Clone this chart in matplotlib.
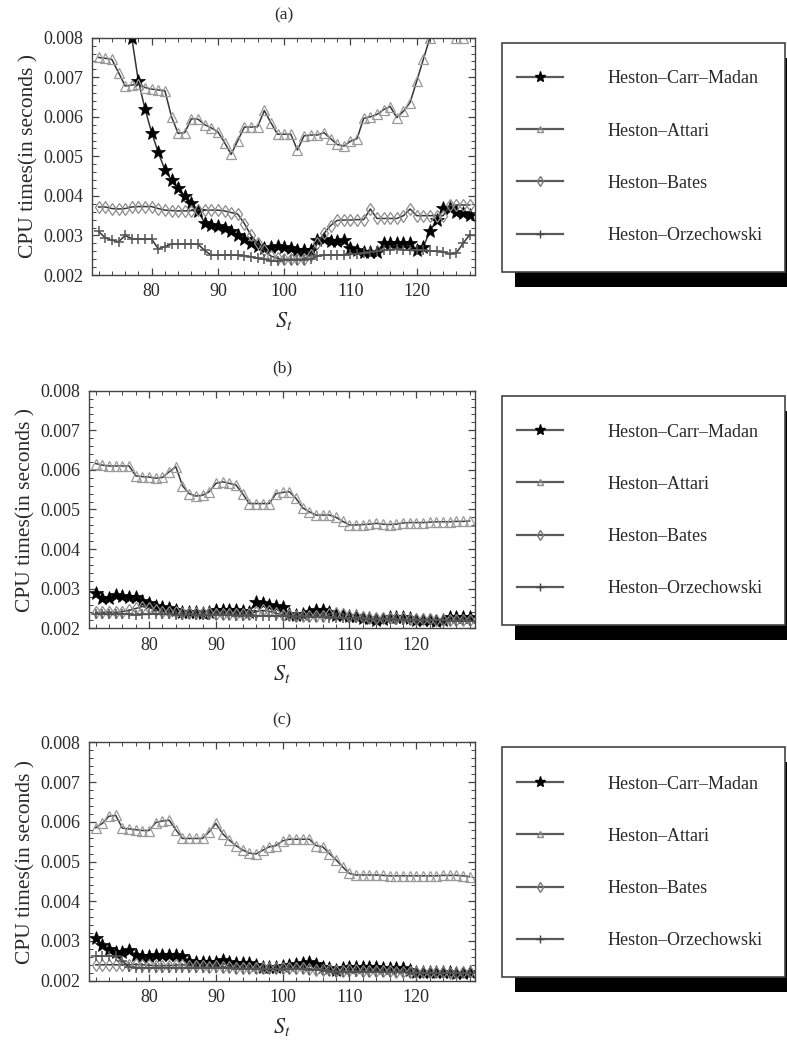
import matplotlib
matplotlib.use("Agg")
import matplotlib.pyplot as plt
from matplotlib.lines import Line2D
from matplotlib.patches import Rectangle
from matplotlib.ticker import AutoMinorLocator, FormatStrFormatter

plt.rcParams["font.family"] = ["Liberation Serif", "DejaVu Serif"]
plt.rcParams["mathtext.fontset"] = "stix"

# stock price grid (x axis)
st = list(range(72, 129))

# panel (a)
carr_a = [0.0110, 0.0105, 0.0100, 0.0094, 0.0088, 0.00800, 0.00690, 0.00620, 0.00560, 0.00510,
          0.00466, 0.00440, 0.00420, 0.00400, 0.00383, 0.00362, 0.00332, 0.00326, 0.00325, 0.00320,
          0.00312, 0.00302, 0.00292, 0.00280, 0.00273, 0.00268, 0.00272, 0.00273, 0.00271, 0.00268,
          0.00264, 0.00262, 0.00263, 0.00288, 0.00290, 0.00285, 0.00286, 0.00289, 0.00268, 0.00262,
          0.00259, 0.00259, 0.00259, 0.00280, 0.00282, 0.00282, 0.00282, 0.00281, 0.00264, 0.00272,
          0.00310, 0.00340, 0.00370, 0.00370, 0.00360, 0.00356, 0.00352]
atta_a = [0.00750, 0.00748, 0.00745, 0.00712, 0.00678, 0.00680, 0.00684, 0.00674, 0.00670, 0.00668,
          0.00666, 0.00600, 0.00558, 0.00560, 0.00595, 0.00594, 0.00580, 0.00572, 0.00562, 0.00535,
          0.00505, 0.00540, 0.00574, 0.00574, 0.00575, 0.00616, 0.00585, 0.00556, 0.00556, 0.00556,
          0.00516, 0.00552, 0.00554, 0.00554, 0.00560, 0.00545, 0.00530, 0.00526, 0.00538, 0.00545,
          0.00596, 0.00600, 0.00606, 0.00618, 0.00626, 0.00598, 0.00614, 0.00636, 0.00690, 0.00745,
          0.00800, 0.00860, 0.00880, 0.00850, 0.00800, 0.00800, 0.00830]
bates_a = [0.00372, 0.00372, 0.00368, 0.00367, 0.00368, 0.00372, 0.00373, 0.00373, 0.00373, 0.00368,
           0.00364, 0.00363, 0.00362, 0.00362, 0.00363, 0.00364, 0.00364, 0.00364, 0.00364, 0.00362,
           0.00358, 0.00354, 0.00330, 0.00300, 0.00280, 0.00262, 0.00248, 0.00242, 0.00240, 0.00240,
           0.00240, 0.00241, 0.00250, 0.00280, 0.00305, 0.00325, 0.00338, 0.00339, 0.00339, 0.00340,
           0.00340, 0.00367, 0.00343, 0.00343, 0.00343, 0.00343, 0.00350, 0.00367, 0.00350, 0.00350,
           0.00350, 0.00350, 0.00350, 0.00376, 0.00377, 0.00377, 0.00377]
orze_a = [0.00310, 0.00294, 0.00288, 0.00284, 0.00300, 0.00292, 0.00291, 0.00290, 0.00291, 0.00266,
          0.00272, 0.00278, 0.00278, 0.00278, 0.00278, 0.00278, 0.00262, 0.00250, 0.00250, 0.00250,
          0.00250, 0.00250, 0.00249, 0.00246, 0.00242, 0.00240, 0.00236, 0.00236, 0.00237, 0.00238,
          0.00238, 0.00238, 0.00240, 0.00248, 0.00250, 0.00250, 0.00250, 0.00250, 0.00252, 0.00254,
          0.00256, 0.00258, 0.00260, 0.00262, 0.00264, 0.00266, 0.00264, 0.00262, 0.00262, 0.00262,
          0.00261, 0.00260, 0.00258, 0.00254, 0.00256, 0.00280, 0.00302]

# panel (b)
carr_b = [0.00290, 0.00276, 0.00276, 0.00284, 0.00282, 0.00280, 0.00280, 0.00270, 0.00263, 0.00256,
          0.00254, 0.00252, 0.00246, 0.00242, 0.00242, 0.00240, 0.00238, 0.00240, 0.00246, 0.00246,
          0.00246, 0.00246, 0.00244, 0.00242, 0.00267, 0.00263, 0.00259, 0.00257, 0.00255, 0.00236,
          0.00234, 0.00235, 0.00240, 0.00246, 0.00246, 0.00240, 0.00234, 0.00234, 0.00232, 0.00230,
          0.00227, 0.00225, 0.00221, 0.00224, 0.00229, 0.00229, 0.00229, 0.00225, 0.00221, 0.00221,
          0.00221, 0.00219, 0.00222, 0.00229, 0.00229, 0.00229, 0.00229]
atta_b = [0.00616, 0.00612, 0.00610, 0.00610, 0.00610, 0.00610, 0.00585, 0.00583, 0.00582, 0.00579,
          0.00581, 0.00595, 0.00608, 0.00560, 0.00540, 0.00534, 0.00536, 0.00545, 0.00566, 0.00570,
          0.00566, 0.00562, 0.00540, 0.00515, 0.00515, 0.00515, 0.00515, 0.00540, 0.00543, 0.00545,
          0.00528, 0.00504, 0.00494, 0.00486, 0.00486, 0.00486, 0.00480, 0.00470, 0.00461, 0.00461,
          0.00462, 0.00463, 0.00465, 0.00463, 0.00462, 0.00463, 0.00466, 0.00467, 0.00467, 0.00467,
          0.00468, 0.00469, 0.00469, 0.00469, 0.00470, 0.00470, 0.00471]
bates_b = [0.00240, 0.00240, 0.00241, 0.00240, 0.00242, 0.00245, 0.00250, 0.00255, 0.00252, 0.00246,
           0.00242, 0.00240, 0.00240, 0.00239, 0.00238, 0.00238, 0.00238, 0.00238, 0.00237, 0.00237,
           0.00237, 0.00236, 0.00236, 0.00236, 0.00242, 0.00245, 0.00243, 0.00238, 0.00234, 0.00233,
           0.00232, 0.00232, 0.00232, 0.00232, 0.00232, 0.00236, 0.00238, 0.00236, 0.00232, 0.00230,
           0.00228, 0.00227, 0.00226, 0.00226, 0.00226, 0.00225, 0.00225, 0.00224, 0.00224, 0.00223,
           0.00223, 0.00222, 0.00222, 0.00221, 0.00221, 0.00220, 0.00220]
orze_b = [0.00236, 0.00236, 0.00235, 0.00235, 0.00236, 0.00235, 0.00234, 0.00235, 0.00235, 0.00236,
          0.00235, 0.00235, 0.00234, 0.00234, 0.00235, 0.00234, 0.00233, 0.00233, 0.00234, 0.00233,
          0.00233, 0.00232, 0.00232, 0.00233, 0.00232, 0.00231, 0.00231, 0.00232, 0.00230, 0.00230,
          0.00229, 0.00230, 0.00228, 0.00228, 0.00229, 0.00227, 0.00227, 0.00226, 0.00227, 0.00225,
          0.00225, 0.00224, 0.00224, 0.00223, 0.00224, 0.00222, 0.00222, 0.00221, 0.00222, 0.00221,
          0.00220, 0.00220, 0.00221, 0.00219, 0.00219, 0.00220, 0.00219]

# panel (c)
carr_c = [0.00307, 0.00290, 0.00280, 0.00273, 0.00273, 0.00277, 0.00265, 0.00262, 0.00261, 0.00265,
          0.00265, 0.00265, 0.00265, 0.00261, 0.00250, 0.00248, 0.00248, 0.00248, 0.00248, 0.00252,
          0.00246, 0.00244, 0.00244, 0.00244, 0.00240, 0.00235, 0.00235, 0.00235, 0.00238, 0.00240,
          0.00242, 0.00244, 0.00248, 0.00242, 0.00235, 0.00231, 0.00227, 0.00232, 0.00235, 0.00235,
          0.00235, 0.00235, 0.00235, 0.00233, 0.00231, 0.00231, 0.00231, 0.00226, 0.00223, 0.00223,
          0.00223, 0.00223, 0.00223, 0.00221, 0.00219, 0.00220, 0.00223]
atta_c = [0.00585, 0.00596, 0.00614, 0.00616, 0.00584, 0.00582, 0.00580, 0.00578, 0.00578, 0.00598,
          0.00602, 0.00604, 0.00580, 0.00558, 0.00558, 0.00558, 0.00558, 0.00575, 0.00596, 0.00570,
          0.00554, 0.00540, 0.00529, 0.00521, 0.00519, 0.00528, 0.00537, 0.00540, 0.00552, 0.00556,
          0.00556, 0.00556, 0.00556, 0.00540, 0.00537, 0.00520, 0.00504, 0.00486, 0.00470, 0.00466,
          0.00466, 0.00466, 0.00466, 0.00465, 0.00464, 0.00464, 0.00464, 0.00464, 0.00464, 0.00464,
          0.00464, 0.00464, 0.00465, 0.00465, 0.00465, 0.00464, 0.00462]
bates_c = [0.00240, 0.00240, 0.00240, 0.00240, 0.00240, 0.00240, 0.00241, 0.00240, 0.00239, 0.00238,
           0.00238, 0.00238, 0.00239, 0.00240, 0.00238, 0.00236, 0.00236, 0.00235, 0.00236, 0.00235,
           0.00234, 0.00233, 0.00232, 0.00232, 0.00233, 0.00232, 0.00231, 0.00231, 0.00232, 0.00232,
           0.00233, 0.00232, 0.00230, 0.00228, 0.00227, 0.00226, 0.00225, 0.00225, 0.00226, 0.00226,
           0.00225, 0.00225, 0.00224, 0.00224, 0.00224, 0.00223, 0.00223, 0.00222, 0.00222, 0.00222,
           0.00221, 0.00221, 0.00221, 0.00220, 0.00220, 0.00221, 0.00221]
orze_c = [0.00262, 0.00262, 0.00262, 0.00262, 0.00250, 0.00234, 0.00233, 0.00233, 0.00233, 0.00233,
          0.00233, 0.00233, 0.00233, 0.00233, 0.00232, 0.00232, 0.00232, 0.00232, 0.00232, 0.00232,
          0.00231, 0.00230, 0.00230, 0.00230, 0.00230, 0.00230, 0.00229, 0.00229, 0.00229, 0.00229,
          0.00229, 0.00229, 0.00228, 0.00227, 0.00226, 0.00224, 0.00222, 0.00221, 0.00221, 0.00222,
          0.00222, 0.00222, 0.00222, 0.00222, 0.00221, 0.00221, 0.00221, 0.00220, 0.00220, 0.00220,
          0.00220, 0.00220, 0.00220, 0.00219, 0.00219, 0.00220, 0.00220]

names = ["Heston\u2013Carr\u2013Madan", "Heston\u2013Attari", "Heston\u2013Bates", "Heston\u2013Orzechowski"]

styles = [
    dict(marker="*", ms=10, mfc="black", mec="black", mew=0.5),
    dict(marker="^", ms=6.5, mfc="none", mec="#9a9a9a", mew=0.9),
    dict(marker="d", ms=6.5, mfc="none", mec="#8c8c8c", mew=0.9),
    dict(marker="+", ms=7, mec="#555555", mew=1.1),
]
leg_styles = [
    dict(marker="*", ms=8, mfc="black", mec="black"),
    dict(marker="^", ms=4.5, mfc="none", mec="#8a8a8a"),
    dict(marker="d", ms=5, mfc="none", mec="#777777"),
    dict(marker="+", ms=6, mec="#444444"),
]

panels = [
    ("(a)", 37.7, 275.0, 92, [carr_a, atta_a, bates_a, orze_a]),
    ("(b)", 390.7, 628.3, 89, [carr_b, atta_b, bates_b, orze_b]),
    ("(c)", 742.3, 980.7, 89, [carr_c, atta_c, bates_c, orze_c]),
]

W, H = 787, 1042
fig = plt.figure(figsize=(W / 100, H / 100), dpi=100)


def px_rect(left, top, right, bottom):
    return [left / W, 1 - bottom / H, (right - left) / W, (bottom - top) / H]


txt = "#2a2a2a"
for title, top, bottom, left, series in panels:
    ax = fig.add_axes(px_rect(left, top, 475, bottom))
    for vals, sty in zip(series, styles):
        ax.plot(st, vals, color="#353535", lw=1.1, **sty)
    ax.set_xlim(71, 128.8)
    ax.set_ylim(0.002, 0.008)
    ax.set_xticks([80, 90, 100, 110, 120])
    ax.set_yticks([0.002, 0.003, 0.004, 0.005, 0.006, 0.007, 0.008])
    ax.yaxis.set_major_formatter(FormatStrFormatter("%.3f"))
    ax.xaxis.set_minor_locator(AutoMinorLocator(5))
    ax.yaxis.set_minor_locator(AutoMinorLocator(5))
    ax.tick_params(which="both", direction="in", top=True, right=True,
                   color="#444444", labelsize=13, labelcolor=txt, pad=6)
    ax.tick_params(which="major", length=5, width=0.9)
    ax.tick_params(which="minor", length=3, width=0.7)
    for sp in ax.spines.values():
        sp.set_color("#444444")
        sp.set_linewidth(1.0)
    ax.set_ylabel("CPU times(in seconds )", fontsize=15.5, color=txt, labelpad=4)
    ax.set_xlabel(r"$S_t$", fontsize=16, color=txt, labelpad=7)
    ax.set_title(title, fontsize=12.5, color=txt, pad=13)

    # legend box with a hard black drop shadow
    lax = fig.add_axes(px_rect(501.7, top + 5, 785, bottom - 3.3))
    lax.set_xlim(0, 1)
    lax.set_ylim(0, 1)
    lax.axis("off")
    bw, bh = 785 - 501.7, (bottom - 3.3) - (top + 5)
    lax.add_patch(Rectangle((13 / bw, -15 / bh), 1, 1, transform=lax.transAxes,
                            fc="black", ec="none", clip_on=False, zorder=0))
    lax.add_patch(Rectangle((0, 0), 1, 1, transform=lax.transAxes,
                            fc="white", ec="#444444", lw=1.2, clip_on=False, zorder=1))
    handles = [Line2D([], [], color="#5a5a5a", lw=1.6, **s) for s in leg_styles]
    leg = lax.legend(handles, names, loc="center left", bbox_to_anchor=(0, 0.5),
                     frameon=False, fontsize=13, handlelength=2.6, handletextpad=2.45,
                     labelspacing=1.95, borderaxespad=0.0, borderpad=0.82)
    for t in leg.get_texts():
        t.set_color(txt)

fig.savefig("out.png", dpi=100)
